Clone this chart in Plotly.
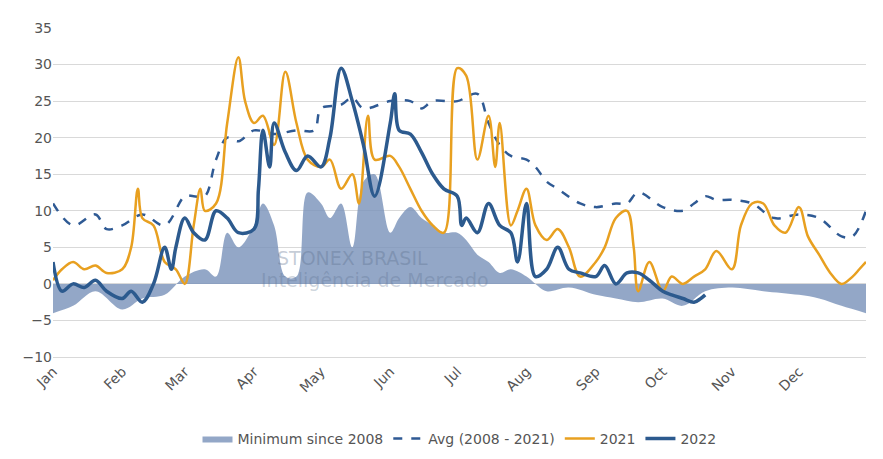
import plotly.graph_objects as go
import pandas as pd

"""
Plotly line chart of spread with minimum, average, 2021 and 2022
"""
def line_spread():

    """
    Data
    """
    avg = {"01-01": 11, "01-10": 8, "01-20": 9.5, "01-25": 7.5, "02-01": 8, "02-10": 9.5, "02-20": 8,
           "03-01": 12, "03-05": 12, "03-10": 12, "03-15": 17, "03-20": 20, "03-25": 19.5, "04-01": 21,
           "04-10": 20.5, "04-20": 21, "04-28": 21, "05-01": 24, "05-10": 24.5, "05-15": 25.5, "05-20": 24,
           "06-01": 25, "06-10": 25, "06-15": 24, "06-20": 25, "07-01": 25, "07-10": 26, "07-15": 22,
           "07-20": 19, "07-25": 17.5, "08-01": 17, "08-05": 16, "08-10": 14, "08-15": 13, "08-25": 11,
           "09-01": 10.5, "09-10": 11, "09-15": 11, "09-20": 12.5, "10-01": 10.5, "10-10": 10, "10-15": 11,
           "10-20": 12, "10-25": 11.5, "11-01": 11.5, "11-10": 11, "11-20": 9, "12-01": 9.5, "12-10": 9,
           "12-20": 6.5, "12-25": 6.5, "12-31": 10}
    y2021 = {"01-01": 0.5, "01-05": 2, "01-10": 3, "01-15": 2, "01-20": 2.5, "01-25": 1.5, "02-01": 2,
             "02-05": 5, "02-08": 13, "02-10": 9, "02-15": 8, "02-20": 3, "02-25": 2, "03-01": 0, "03-05": 8,
             "03-08": 13, "03-10": 10, "03-15": 11, "03-20": 22, "03-25": 31, "03-28": 25, "04-01": 22,
             "04-05": 23, "04-10": 19, "04-15": 29, "04-20": 22, "04-25": 17, "05-01": 16, "05-05": 17,
             "05-10": 13, "05-15": 15, "05-18": 11, "05-22": 23, "05-25": 17, "06-01": 17.5, "06-05": 16,
             "06-10": 13, "06-15": 10, "06-20": 8, "06-25": 7, "07-01": 29.5, "07-05": 28.5, "07-10": 17,
             "07-15": 23, "07-18": 16, "07-20": 22, "07-25": 8, "07-28": 10, "08-01": 13, "08-05": 8,
             "08-10": 6, "08-15": 7.5, "08-20": 5, "08-25": 1, "09-01": 3, "09-05": 5, "09-10": 9,
             "09-15": 10, "09-18": 5, "09-20": -1, "09-25": 3, "10-01": -1, "10-05": 1, "10-10": 0,
             "10-15": 1, "10-20": 2, "10-25": 4.5, "11-01": 2, "11-05": 8, "11-10": 11, "11-15": 11,
             "11-20": 8, "11-25": 7, "12-01": 10.5, "12-05": 6.5, "12-10": 4, "12-15": 1.5, "12-20": 0,
             "12-25": 1, "12-28": 2, "12-31": 3}
    y2022 = {"01-01": 3, "01-05": -1, "01-10": 0, "01-15": -0.5, "01-20": 0.5, "01-25": -1, "02-01": -2,
             "02-05": -1, "02-10": -2.5, "02-15": 0, "02-20": 5, "02-23": 2, "02-25": 5, "03-01": 9,
             "03-05": 7, "03-10": 6, "03-15": 10, "03-20": 9, "03-25": 7, "04-01": 7.5, "04-03": 13,
             "04-05": 21, "04-08": 16, "04-10": 22, "04-15": 18, "04-20": 15.5, "04-25": 17.5, "05-01": 16,
             "05-05": 20, "05-10": 29.5, "05-15": 25, "05-20": 19, "05-25": 12, "06-01": 22, "06-03": 26,
             "06-05": 21, "06-10": 20.5, "06-15": 18, "06-20": 15, "06-25": 13, "07-01": 12, "07-03": 8,
             "07-05": 9, "07-10": 7, "07-15": 11, "07-20": 8, "07-25": 7, "07-28": 3, "08-01": 11,
             "08-05": 1, "08-10": 2, "08-15": 5, "08-20": 2, "08-25": 1.5, "09-01": 1, "09-05": 2.5,
             "09-10": 0, "09-15": 1.5, "09-20": 1.5, "09-25": 0.5, "10-01": -1, "10-05": -1.5,
             "10-10": -2, "10-15": -2.5, "10-18": -2, "10-20": -1.5}
    minimum = {"01-01": -4, "01-10": -3, "01-20": -1, "02-01": -3.5, "02-10": -2, "02-20": -1.5,
               "03-01": 1, "03-10": 2, "03-15": 1, "03-20": 7, "03-25": 5, "04-01": 8, "04-05": 11,
               "04-10": 8, "04-15": 1, "04-20": 1, "04-25": 12.5, "05-01": 11, "05-05": 9, "05-10": 11,
               "05-15": 5, "05-20": 14, "05-25": 15, "06-01": 7, "06-05": 9, "06-10": 10.5, "06-15": 9,
               "06-20": 8, "06-25": 7, "07-01": 7, "07-05": 6, "07-10": 4, "07-15": 3, "07-20": 1.5,
               "07-25": 2, "08-01": 1, "08-05": 0, "08-10": -1, "08-20": -0.5, "09-01": -1.5, "09-10": -2,
               "09-20": -2.5, "10-01": -2, "10-10": -3, "10-20": -1, "11-01": -0.5, "11-15": -1,
               "12-01": -1.5, "12-10": -2, "12-20": -3, "12-31": -4}

    to_dates = lambda d: pd.to_datetime(["2022-" + k for k in d])

    """
    Plot
    """
    fig = go.Figure(
        data=[
            go.Scatter(x=to_dates(minimum), y=list(minimum.values()), name="Minimum since 2008", fill="tozeroy",
                       fillcolor="rgba(120,145,185,0.8)", line=dict(width=0, shape="spline"), mode="lines"),
            go.Scatter(x=to_dates(avg), y=list(avg.values()), name="Avg (2008 - 2021)", mode="lines",
                       line=dict(color="#2f5a94", width=2.5, dash="dash", shape="spline")),
            go.Scatter(x=to_dates(y2021), y=list(y2021.values()), name="2021", mode="lines",
                       line=dict(color="#e8a020", width=2.5, shape="spline")),
            go.Scatter(x=to_dates(y2022), y=list(y2022.values()), name="2022", mode="lines",
                       line=dict(color="#2c5a8e", width=3.5, shape="spline")),
        ])
    fig.update_layout(
        width=883,
        height=459,
        autosize=False,
        plot_bgcolor="white",
        paper_bgcolor="white",
        font=dict(family="DejaVu Sans", size=14, color="#555555"),
        margin=dict(l=45, r=25, t=12, b=70),
        legend=dict(orientation="h", x=0.5, xanchor="center", y=-0.2, yanchor="top", font=dict(size=14)),
        xaxis=dict(range=["2022-01-01", "2022-12-31"], tickformat="%b", dtick="M1", tickangle=-45,
                   showgrid=False, showline=True, linecolor="#d9d9d9"),
        yaxis=dict(range=[-10, 35], dtick=5, gridcolor="#d9d9d9", zeroline=False),
        annotations=[
            dict(x="2022-05-15", y=3.5, text="STONEX BRASIL", showarrow=False,
                 font=dict(size=19, color="rgba(90,110,140,0.35)")),
            dict(x="2022-05-25", y=0.5, text="Inteligência de Mercado", showarrow=False,
                 font=dict(size=19, color="rgba(90,110,140,0.3)")),
        ],
    )
    fig.write_html("out.html")


if __name__ == "__main__":
    line_spread()
